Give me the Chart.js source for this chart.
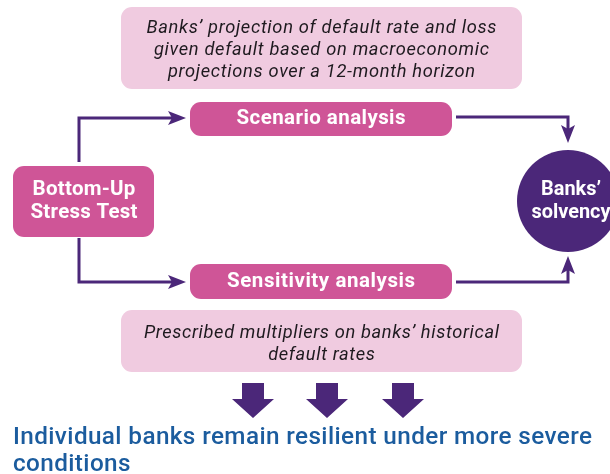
<!DOCTYPE html>
<html>
<head>
<meta charset="utf-8">
<script src="https://cdn.jsdelivr.net/npm/chart.js@4.4.1/dist/chart.umd.min.js"></script>
<style>
  html, body { margin: 0; padding: 0; background: #ffffff; }
  #wrap { width: 610px; height: 474px; position: relative; }
</style>
</head>
<body>
<div id="wrap"><canvas id="c" width="610" height="474"></canvas></div>
<script>
// ---- Content (texts of the diagram) ----
const topNoteLines = ["Banks\u2019 projection of default rate and loss", "given default based on macroeconomic", "projections over a 12-month horizon"];
const bottomNoteLines = ["Prescribed multipliers on banks\u2019 historical", "default rates"];
const startLines = ["Bottom-Up", "Stress Test"];
const methodLabels = ["Scenario analysis", "Sensitivity analysis"];
const endLines = ["Banks\u2019", "solvency"];
const conclusionLines = ["Individual banks remain resilient under more severe", "conditions"];

// ---- Layout (diagram coordinates on a 610 x 474 grid) ----
const C = { magenta: '#cf5597', pink: '#f0cbe0', purple: '#4b2779', blue: '#1b5c9e', ink: '#1e1a1f' };
const FAMILY = 'Roboto, "Open Sans", "Noto Sans", sans-serif';
const layout = {
  topNote:    { x0: 121, x1: 522, y0: 7,   y1: 89,  r: 11, lineY: [28, 50, 72], w: 350, size: 18.3 },
  bottomNote: { x0: 121, x1: 522, y0: 310, y1: 372, r: 11, lineY: [333, 355], w: 355, size: 18.3 },
  methods: [
    { x0: 190, x1: 452, y0: 102, y1: 136, r: 11, cy: 119, w: 169, size: 20.5 },
    { x0: 190, x1: 452, y0: 264, y1: 299, r: 11, cy: 282, w: 188, size: 20.5 }
  ],
  start: { x0: 13, x1: 154, y0: 166, y1: 237, r: 11, lineY: [190, 213], w: 107, cx: 84, size: 20.5 },
  end:   { cx: 568, cy: 201, r: 51, lineY: [190, 213], tx: 571, w: 60, size: 20.5 },
  connectors: [
    [[79, 162], [79, 118], [178, 118]],
    [[79, 238], [79, 282], [178, 282]],
    [[456, 117], [568, 117], [568, 135]],
    [[456, 282], [568, 282], [568, 264]]
  ],
  tips: [[186, 118], [186, 282], [568, 143], [568, 256]],
  downArrows: { xs: [253, 327, 403], top: 383, neck: 399, tip: 418, shaftHW: 11, headHW: 21 },
  conclusion: { x: 13, baselines: [444, 471], w: 579, size: 24.3 }
};

const connectorDatasets = layout.connectors.map(pts => ({
  type: 'scatter',
  data: pts.map(p => ({ x: p[0], y: p[1] })),
  showLine: true,
  borderColor: C.purple,
  borderWidth: 3,
  pointRadius: 0,
  tension: 0,
  fill: false,
  clip: false,
  order: 2
}));

const endDataset = {
  type: 'scatter',
  data: [{ x: layout.end.cx, y: layout.end.cy }],
  pointRadius: layout.end.r,
  pointHoverRadius: layout.end.r,
  pointStyle: 'circle',
  backgroundColor: C.purple,
  borderColor: C.purple,
  borderWidth: 0,
  clip: false,
  order: 1
};

// set font at a given size, then widen with letter spacing (or shrink) to reach the target width
function setFont(ctx, text, style, weight, size, target) {
  ctx.letterSpacing = '0px';
  ctx.font = `${style} ${weight} ${size}px ${FAMILY}`;
  const w = ctx.measureText(text).width;
  let sp = 0;
  if (w > target) {
    ctx.font = `${style} ${weight} ${(size * target / w).toFixed(2)}px ${FAMILY}`;
  } else {
    sp = (target - w) / Math.max(1, text.length - 1);
    sp = Math.min(sp, 1.5);
    ctx.letterSpacing = sp.toFixed(2) + 'px';
  }
  return sp;
}

function rrect(ctx, xs, ys, b, color) {
  const x0 = xs.getPixelForValue(b.x0), x1 = xs.getPixelForValue(b.x1);
  const y0 = ys.getPixelForValue(b.y0), y1 = ys.getPixelForValue(b.y1);
  ctx.beginPath();
  ctx.roundRect(x0, y0, x1 - x0, y1 - y0, b.r);
  ctx.fillStyle = color;
  ctx.fill();
}

const diagramPlugin = {
  id: 'diagram',
  beforeDatasetsDraw(chart) {
    const ctx = chart.ctx, xs = chart.scales.x, ys = chart.scales.y;
    ctx.save();
    rrect(ctx, xs, ys, layout.topNote, C.pink);
    rrect(ctx, xs, ys, layout.bottomNote, C.pink);
    layout.methods.forEach(m => rrect(ctx, xs, ys, m, C.magenta));
    rrect(ctx, xs, ys, layout.start, C.magenta);
    ctx.restore();
  },
  afterDatasetsDraw(chart) {
    const ctx = chart.ctx, xs = chart.scales.x, ys = chart.scales.y;
    const X = v => xs.getPixelForValue(v), Y = v => ys.getPixelForValue(v);
    ctx.save();
    // arrowheads at connector ends
    layout.connectors.forEach((pts, i) => {
      const a = pts[pts.length - 1];
      const tip = layout.tips[i];
      const dx = X(tip[0]) - X(a[0]), dy = Y(tip[1]) - Y(a[1]);
      const len = Math.hypot(dx, dy) || 1;
      const ux = dx / len, uy = dy / len;
      const tx = X(tip[0]), ty = Y(tip[1]);
      const L = 18, H = 7;
      const bx = tx - ux * L, by = ty - uy * L;
      ctx.beginPath();
      ctx.moveTo(tx, ty);
      ctx.lineTo(bx - uy * H, by + ux * H);
      ctx.lineTo(bx + ux * 4, by + uy * 4);
      ctx.lineTo(bx + uy * H, by - ux * H);
      ctx.closePath();
      ctx.fillStyle = C.purple;
      ctx.fill();
    });
    // block down arrows
    const d = layout.downArrows;
    d.xs.forEach(cx => {
      ctx.beginPath();
      ctx.moveTo(X(cx - d.shaftHW), Y(d.top));
      ctx.lineTo(X(cx + d.shaftHW), Y(d.top));
      ctx.lineTo(X(cx + d.shaftHW), Y(d.neck));
      ctx.lineTo(X(cx + d.headHW), Y(d.neck));
      ctx.lineTo(X(cx), Y(d.tip));
      ctx.lineTo(X(cx - d.headHW), Y(d.neck));
      ctx.lineTo(X(cx - d.shaftHW), Y(d.neck));
      ctx.closePath();
      ctx.fillStyle = C.purple;
      ctx.fill();
    });
    // texts
    ctx.textAlign = 'center';
    ctx.textBaseline = 'middle';
    const tn = layout.topNote, tcx = (tn.x0 + tn.x1) / 2;
    ctx.fillStyle = C.ink;
    let sp = setFont(ctx, topNoteLines[0], 'italic', 400, tn.size, tn.w);
    topNoteLines.forEach((t, i) => ctx.fillText(t, X(tcx) + sp / 2, Y(tn.lineY[i])));
    const bn = layout.bottomNote;
    sp = setFont(ctx, bottomNoteLines[0], 'italic', 400, bn.size, bn.w);
    bottomNoteLines.forEach((t, i) => ctx.fillText(t, X(tcx) + sp / 2, Y(bn.lineY[i])));
    ctx.fillStyle = '#ffffff';
    layout.methods.forEach((m, i) => {
      const s2 = setFont(ctx, methodLabels[i], 'normal', 700, m.size, m.w);
      ctx.fillText(methodLabels[i], X((m.x0 + m.x1) / 2) + s2 / 2, Y(m.cy));
    });
    const s = layout.start;
    sp = setFont(ctx, startLines[1], 'normal', 700, s.size, s.w);
    startLines.forEach((t, i) => ctx.fillText(t, X(s.cx) + sp / 2, Y(s.lineY[i])));
    const e = layout.end;
    sp = setFont(ctx, endLines[0], 'normal', 700, e.size, e.w);
    endLines.forEach((t, i) => ctx.fillText(t, X(e.tx) + sp / 2, Y(e.lineY[i])));
    const cc = layout.conclusion;
    ctx.textAlign = 'left';
    ctx.textBaseline = 'alphabetic';
    ctx.fillStyle = C.blue;
    setFont(ctx, conclusionLines[0], 'normal', 500, cc.size, cc.w);
    conclusionLines.forEach((t, i) => ctx.fillText(t, X(cc.x), Y(cc.baselines[i])));
    ctx.restore();
  }
};

new Chart(document.getElementById('c'), {
  type: 'scatter',
  data: { datasets: [...connectorDatasets, endDataset] },
  options: {
    responsive: false,
    animation: false,
    events: [],
    layout: { padding: 0, autoPadding: false },
    plugins: { legend: { display: false }, tooltip: { enabled: false }, title: { display: false } },
    scales: {
      x: { type: 'linear', min: 0, max: 610, display: false },
      y: { type: 'linear', min: 0, max: 474, reverse: true, display: false }
    }
  },
  plugins: [diagramPlugin]
});
</script>
</body>
</html>
